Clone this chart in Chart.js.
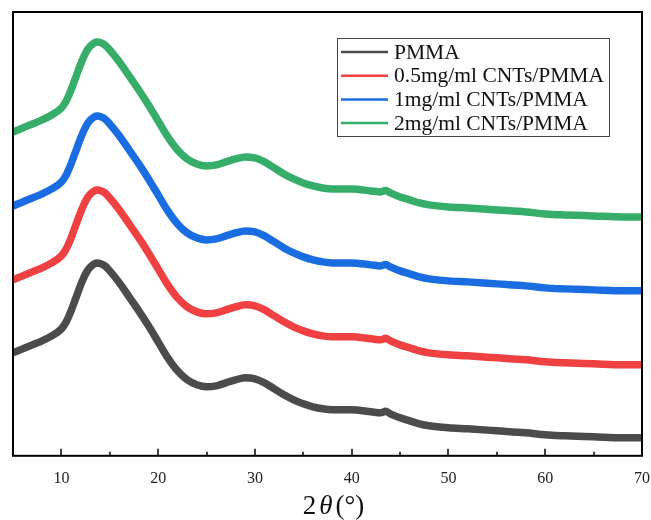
<!DOCTYPE html>
<html>
<head>
<meta charset="utf-8">
<script src="https://cdn.jsdelivr.net/npm/chart.js@4.4.0/dist/chart.umd.min.js"></script>
<style>
  body { margin: 0; background: #fff; }
</style>
</head>
<body>
<canvas id="grafico" width="651" height="520"></canvas>
<script>
  // 2θ (graus)
  const angulos = [5, 6, 7, 8, 9, 10, 10.5, 11, 11.5, 12, 12.5, 13, 13.7, 14.5, 15,
    16, 17, 18, 19, 20, 21, 22, 23, 24, 25, 26, 27, 28, 29, 30, 31, 32, 33, 34, 35, 36, 37, 38,
    40, 42, 43, 43.5, 44, 45, 46, 47, 48, 50, 52, 55, 58, 60, 62, 65, 68, 70];

  // intensidade (u.a.), curvas deslocadas na vertical como no original
  const pmma = [103, 107, 111, 115, 120, 127, 134, 145, 158, 171, 182, 189, 193, 190, 185,
    173, 159, 145, 130, 114, 98, 85, 76, 71, 69, 70, 73, 76, 78, 77, 73, 67, 61, 56, 52, 49, 47, 46,
    46, 44, 43, 44.5, 42, 38, 35, 32, 30, 28, 27, 25, 23, 21, 20, 19, 18, 18];
  const cnt05 = [176, 180, 184, 188, 193, 200, 207, 218, 231, 244, 255, 262, 266, 263, 258,
    246, 232, 218, 203, 187, 171, 158, 149, 144, 142, 143, 146, 149, 151, 150, 146, 140, 134, 129, 125, 122, 120, 119,
    119, 117, 116, 117.5, 115, 111, 108, 105, 103, 101, 100, 98, 96, 94, 93, 92, 91, 91];
  const cnt1 = [250, 254, 258, 262, 267, 274, 281, 292, 305, 318, 329, 336, 340, 337, 332,
    320, 306, 292, 277, 261, 245, 232, 223, 218, 216, 217, 220, 223, 225, 224, 220, 214, 208, 203, 199, 196, 194, 193,
    193, 191, 190, 191.5, 189, 185, 182, 179, 177, 175, 174, 172, 170, 168, 167, 166, 165, 165];
  const cnt2 = [324, 328, 332, 336, 341, 348, 355, 366, 379, 392, 403, 410, 414, 411, 406,
    394, 380, 366, 351, 335, 319, 306, 297, 292, 290, 291, 294, 297, 299, 298, 294, 288, 282, 277, 273, 270, 268, 267,
    267, 265, 264, 265.5, 263, 259, 256, 253, 251, 249, 248, 246, 244, 242, 241, 240, 239, 239];

  const rotulos = ['PMMA', '0.5mg/ml CNTs/PMMA', '1mg/ml CNTs/PMMA', '2mg/ml CNTs/PMMA'];
  const cores = ['#4b4b4b', '#ef4042', '#1a6de0', '#37ad6a'];
  const ticksX = [10, 20, 30, 40, 50, 60, 70];
  const ticksMenores = [15, 25, 35, 45, 55, 65];

  const series = [pmma, cnt05, cnt1, cnt2];

  // moldura, ticks para dentro, título do eixo e legenda
  const moldura = {
    id: 'moldura',
    afterDraw(chart) {
      const { ctx, chartArea: a, scales: { x } } = chart;
      ctx.save();
      ctx.strokeStyle = '#000';
      ctx.lineWidth = 2;
      ctx.strokeRect(a.left, a.top, a.right - a.left, a.bottom - a.top);

      ctx.lineWidth = 1.5;
      ticksX.forEach(v => {
        const px = Math.round(x.getPixelForValue(v));
        ctx.beginPath(); ctx.moveTo(px, a.bottom); ctx.lineTo(px, a.bottom - 7); ctx.stroke();
      });
      ticksMenores.forEach(v => {
        const px = Math.round(x.getPixelForValue(v));
        ctx.beginPath(); ctx.moveTo(px, a.bottom); ctx.lineTo(px, a.bottom - 4); ctx.stroke();
      });

      // título 2θ(°)
      const partes = [['2', 'normal'], ['\u03b8', 'italic'], ['(\u00b0)', 'normal']];
      ctx.fillStyle = '#111';
      ctx.textBaseline = 'middle';
      let larg = 0;
      partes.forEach(p => {
        ctx.font = p[1] + ' 27px "Liberation Serif"';
        larg += ctx.measureText(p[0]).width + 3;
      });
      let cx = 335 - larg / 2;
      partes.forEach(p => {
        ctx.font = p[1] + ' 27px "Liberation Serif"';
        ctx.fillText(p[0], cx, 507);
        cx += ctx.measureText(p[0]).width + 3;
      });

      // legenda
      ctx.lineWidth = 1;
      ctx.strokeStyle = '#444';
      ctx.strokeRect(337.5, 38.5, 272, 98);
      ctx.font = '21.5px "Liberation Serif"';
      ctx.textBaseline = 'middle';
      chart.data.datasets.forEach((ds, i) => {
        const y = 52 + i * 23.7;
        ctx.strokeStyle = ds.borderColor;
        ctx.lineWidth = 2.5;
        ctx.beginPath(); ctx.moveTo(341, y); ctx.lineTo(388, y); ctx.stroke();
        ctx.fillStyle = '#111';
        ctx.fillText(ds.label, 394, y + 1);
      });
      ctx.restore();
    }
  };

  const ctx = document.getElementById('grafico').getContext('2d');
  new Chart(ctx, {
    type: 'line',
    data: {
      datasets: series.map((s, i) => ({
        label: rotulos[i],
        data: s.map((v, j) => ({ x: angulos[j], y: v })),
        borderColor: cores[i],
        borderWidth: 7.5,
        pointRadius: 0,
        cubicInterpolationMode: 'monotone',
        fill: false
      }))
    },
    options: {
      responsive: false,
      animation: false,
      layout: { padding: { left: 13, right: 9, top: 12, bottom: 19 } },
      scales: {
        x: {
          type: 'linear',
          min: 5,
          max: 70,
          afterBuildTicks: s => { s.ticks = ticksX.map(v => ({ value: v })); },
          afterFit: s => { s.paddingLeft = 0; s.paddingRight = 0; },
          grid: { display: false, drawTicks: false },
          border: { display: false },
          ticks: {
            color: '#222',
            padding: 13,
            maxRotation: 0,
            font: { family: '"Liberation Serif"', size: 16 }
          }
        },
        y: {
          display: false,
          min: 0,
          max: 444
        }
      },
      plugins: {
        legend: { display: false },
        tooltip: { enabled: false }
      }
    },
    plugins: [moldura]
  });
</script>
</body>
</html>
